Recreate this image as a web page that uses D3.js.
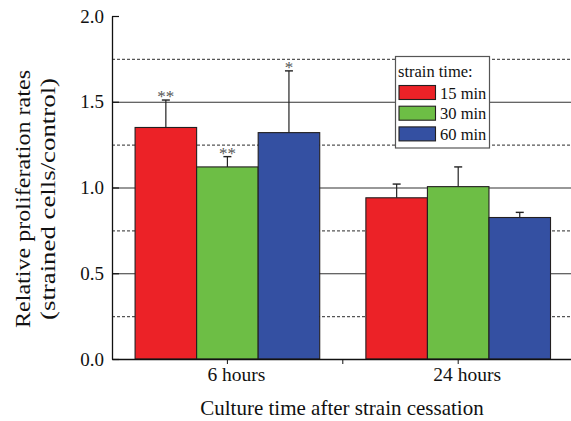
<!DOCTYPE html>
<html>
<head>
<meta charset="utf-8">
<script src="https://cdn.jsdelivr.net/npm/d3@7"></script>
<style>
  body { margin: 0; background: #fff; }
  svg { display: block; }
</style>
</head>
<body>
<svg id="chart" width="571" height="421"></svg>
<script>
// data
let groups = ["6 hours", "24 hours"]
let strainTimes = ["15 min", "30 min", "60 min"]
let means6h = [1.35, 1.12, 1.32]
let means24h = [0.94, 1.005, 0.825]
let errTop6h = [1.51, 1.18, 1.68]
let errTop24h = [1.02, 1.12, 0.855]
let stars6h = ["**", "**", "*"]
let stars24h = ["", "", ""]
let yMajor = [0, 0.5, 1.0, 1.5, 2.0]
let yMinor = [0.25, 0.75, 1.25, 1.75]
let colors = ["#ec2227", "#6dbe45", "#3450a2"]

let serif = '"Liberation Serif"'
let svg = d3.select("#chart")
let plotLeft = 112, plotRight = 573.6, plotTop = 16, plotBottom = 359

let rows = []
groups.forEach((g, i) => {
  let m = i == 0 ? means6h : means24h
  let e = i == 0 ? errTop6h : errTop24h
  let s = i == 0 ? stars6h : stars24h
  strainTimes.forEach((t, j) => {
    rows.push({ group: g, time: t, mean: m[j], err: e[j], star: s[j] })
  })
})

let xScale = d3.scaleBand().domain(groups).range([plotLeft, plotRight])
  .paddingInner(0.2).paddingOuter(0.1)
let xSub = d3.scaleBand().domain(strainTimes).range([0, xScale.bandwidth()])
let yScale = d3.scaleLinear().domain([0, 2]).range([plotBottom, plotTop])
let color = d3.scaleOrdinal().domain(strainTimes).range(colors)

// grid lines
svg.append("g").selectAll("line.minor")
  .data(yMinor).enter().append("line")
  .attr("x1", plotLeft).attr("x2", 571)
  .attr("y1", d => yScale(d) + 0.5).attr("y2", d => yScale(d) + 0.5)
  .attr("stroke", "#555").attr("stroke-width", 1.1)
  .attr("stroke-dasharray", "3,2")
svg.append("g").selectAll("line.major")
  .data(yMajor.filter(d => d > 0 && d < 2)).enter().append("line")
  .attr("x1", plotLeft).attr("x2", 571)
  .attr("y1", d => yScale(d) + 0.5).attr("y2", d => yScale(d) + 0.5)
  .attr("stroke", "#333").attr("stroke-width", 1.2)

// bars
let bars = svg.append("g").selectAll("g")
  .data(rows).enter().append("g")
  .attr("transform", d => `translate(${xScale(d.group) + xSub(d.time)},0)`)

bars.append("line")
  .attr("x1", xSub.bandwidth() / 2).attr("x2", xSub.bandwidth() / 2)
  .attr("y1", d => yScale(d.mean)).attr("y2", d => yScale(d.err))
  .attr("stroke", "#222").attr("stroke-width", 1.2)
bars.append("line")
  .attr("x1", xSub.bandwidth() / 2 - 4).attr("x2", xSub.bandwidth() / 2 + 4)
  .attr("y1", d => yScale(d.err)).attr("y2", d => yScale(d.err))
  .attr("stroke", "#222").attr("stroke-width", 1.4)
bars.append("rect")
  .attr("x", 0)
  .attr("y", d => yScale(d.mean))
  .attr("width", xSub.bandwidth())
  .attr("height", d => plotBottom - yScale(d.mean))
  .attr("fill", d => color(d.time))
  .attr("stroke", "#231f20").attr("stroke-width", 1.1)
bars.append("text")
  .attr("x", xSub.bandwidth() / 2)
  .attr("y", d => yScale(d.err) + 2)
  .attr("text-anchor", "middle")
  .style("font-family", serif)
  .style("font-size", "17px")
  .style("fill", "#555")
  .text(d => d.star)

// y axis
let yAxis = d3.axisLeft(yScale).tickValues(yMajor)
  .tickFormat(d3.format(".1f")).tickSizeInner(-7).tickSizeOuter(0).tickPadding(8)
let yAxisGroup = svg.append("g")
  .attr("transform", `translate(${plotLeft},0)`)
  .call(yAxis)
yAxisGroup.select(".domain").attr("stroke", "#111").attr("stroke-width", 1.3)
yAxisGroup.selectAll(".tick line").attr("stroke", "#111").attr("stroke-width", 1.2)
yAxisGroup.selectAll(".tick text")
  .style("font-family", serif).style("font-size", "19px").attr("fill", "#111")

// x axis
let xAxis = d3.axisBottom(xScale).tickSizeInner(5).tickSizeOuter(0).tickPadding(3)
let xAxisGroup = svg.append("g")
  .attr("transform", `translate(0,${plotBottom})`)
  .call(xAxis)
xAxisGroup.select(".domain").attr("stroke", "#111").attr("stroke-width", 1.3)
xAxisGroup.selectAll(".tick line").attr("stroke", "#111")
// labels sit a little right of their ticks in the original
xAxisGroup.selectAll(".tick text")
  .attr("dx", 9)
  .style("font-family", serif).style("font-size", "19.5px").attr("fill", "#111")
// tick between the two groups
let midX = (xScale(groups[0]) + xScale(groups[1]) + xScale.bandwidth()) / 2
xAxisGroup.append("line")
  .attr("x1", midX).attr("x2", midX)
  .attr("y1", 0).attr("y2", 5)
  .attr("stroke", "#111")

// axis titles
svg.append("text")
  .attr("x", 342).attr("y", 415)
  .attr("text-anchor", "middle")
  .style("font-family", serif)
  .style("font-size", "21px")
  .style("fill", "#111")
  .text("Culture time after strain cessation")

let yTitle = svg.append("text")
  .attr("transform", "translate(0,199) rotate(-90)")
  .attr("text-anchor", "middle")
  .style("font-family", serif)
  .style("font-size", "20px")
  .style("fill", "#111")
yTitle.append("tspan").attr("x", 0).attr("y", 30)
  .attr("textLength", 258).attr("lengthAdjust", "spacingAndGlyphs")
  .text("Relative proliferation rates")
yTitle.append("tspan").attr("x", 0).attr("y", 55)
  .attr("textLength", 242).attr("lengthAdjust", "spacingAndGlyphs")
  .text("(strained cells/control)")

// legend
let legend = svg.append("g")
legend.append("rect")
  .attr("x", 395.5).attr("y", 56.5).attr("width", 94).attr("height", 91.5)
  .attr("fill", "#fff").attr("stroke", "#555").attr("stroke-width", 1.2)
legend.append("text")
  .attr("x", 398).attr("y", 77)
  .style("font-family", serif)
  .style("font-size", "16.5px")
  .style("fill", "#111")
  .text("strain time:")
let items = legend.selectAll("g.item")
  .data(strainTimes).enter().append("g")
  .attr("transform", (d, i) => `translate(399,${85.5 + i * 20.7})`)
items.append("rect")
  .attr("width", 36.5).attr("height", 14)
  .attr("fill", d => color(d))
  .attr("stroke", "#231f20").attr("stroke-width", 1.1)
items.append("text")
  .attr("x", 41).attr("y", 13)
  .style("font-family", serif)
  .style("font-size", "16.5px")
  .style("fill", "#111")
  .text(d => d)
</script>
</body>
</html>
